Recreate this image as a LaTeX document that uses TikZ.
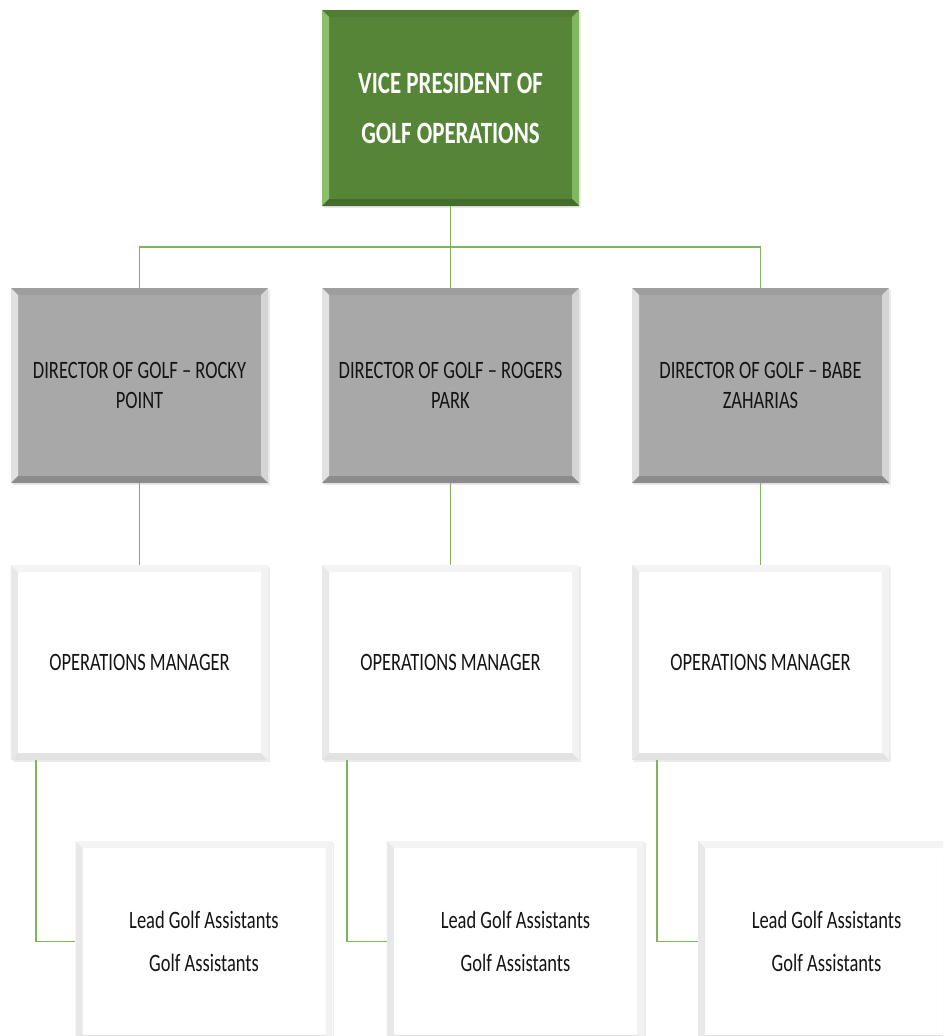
\documentclass[tikz,border=0pt]{standalone}
\usepackage{fontspec}
\newfontfamily\myfont[FakeStretch=0.74]{Carlito}
\usetikzlibrary{shadows}
\definecolor{vpgreen}{RGB}{86,133,55}
\definecolor{vptop}{RGB}{80,125,51}
\definecolor{vpleft}{RGB}{140,190,105}
\definecolor{vpright}{RGB}{130,182,96}
\definecolor{vpbot}{RGB}{68,108,44}
\definecolor{dgray}{RGB}{168,168,168}
\definecolor{dtop}{RGB}{158,158,158}
\definecolor{dleft}{RGB}{225,225,225}
\definecolor{dright}{RGB}{212,212,212}
\definecolor{dbot}{RGB}{140,140,140}
\definecolor{wtop}{RGB}{244,244,244}
\definecolor{wleft}{RGB}{232,232,232}
\definecolor{wright}{RGB}{242,242,242}
\definecolor{wbot}{RGB}{226,226,226}
\definecolor{linkgreen}{RGB}{128,180,92}
\definecolor{txt}{RGB}{20,20,20}
\tikzset{
  bevbox/.style n args={5}{fill=#1, minimum width=257pt, minimum height=195pt,
    inner sep=0pt, align=center, font=\myfont\fontsize{25}{30}\selectfont, text=txt,
    drop shadow={opacity=0.15, shadow xshift=1.5pt, shadow yshift=-1.5pt},
    path picture={
      \fill[#2] (path picture bounding box.north west) -- (path picture bounding box.north east)
        -- ([xshift=-7pt,yshift=-7pt]path picture bounding box.north east)
        -- ([xshift=7pt,yshift=-7pt]path picture bounding box.north west) -- cycle;
      \fill[#3] (path picture bounding box.north west) -- (path picture bounding box.south west)
        -- ([xshift=7pt,yshift=7pt]path picture bounding box.south west)
        -- ([xshift=7pt,yshift=-7pt]path picture bounding box.north west) -- cycle;
      \fill[#4] (path picture bounding box.north east) -- (path picture bounding box.south east)
        -- ([xshift=-7pt,yshift=7pt]path picture bounding box.south east)
        -- ([xshift=-7pt,yshift=-7pt]path picture bounding box.north east) -- cycle;
      \fill[#5] (path picture bounding box.south west) -- (path picture bounding box.south east)
        -- ([xshift=-7pt,yshift=7pt]path picture bounding box.south east)
        -- ([xshift=7pt,yshift=7pt]path picture bounding box.south west) -- cycle;
    }},
  vpbox/.style={bevbox={vpgreen}{vptop}{vpleft}{vpright}{vpbot}, minimum height=196pt,
    text=white, font=\myfont\bfseries\fontsize{31}{50}\selectfont},
  dirbox/.style={bevbox={dgray}{dtop}{dleft}{dright}{dbot}},
  opsbox/.style={bevbox={white}{wtop}{wleft}{wright}{wbot}},
  asbox/.style={bevbox={white}{wtop}{wleft}{wright}{wbot}, font=\myfont\fontsize{25}{43}\selectfont},
  link/.style={draw=linkgreen, line width=1.4pt},
}
\begin{document}
\begin{tikzpicture}[x=1pt,y=-1pt]
\useasboundingbox (0,0) rectangle (943,1036);
\fill[white] (0,0) rectangle (943,1036);
\clip (0,0) rectangle (943,1036);

\node[vpbox] (vp) at (450.5,108) {VICE PRESIDENT OF\\GOLF OPERATIONS};

\node[dirbox] (d1) at (139.5,385.5) {DIRECTOR OF GOLF – ROCKY\\POINT};
\node[dirbox] (d2) at (450.5,385.5) {DIRECTOR OF GOLF – ROGERS\\PARK};
\node[dirbox] (d3) at (760.5,385.5) {DIRECTOR OF GOLF – BABE\\ZAHARIAS};

\node[opsbox] (o1) at (139.5,662.5) {OPERATIONS MANAGER};
\node[opsbox] (o2) at (450.5,662.5) {OPERATIONS MANAGER};
\node[opsbox] (o3) at (760.5,662.5) {OPERATIONS MANAGER};

\node[asbox, minimum height=201pt] (a1) at (204,941.5) {Lead Golf Assistants\\Golf Assistants};
\node[asbox, minimum height=201pt] (a2) at (515.5,941.5) {Lead Golf Assistants\\Golf Assistants};
\node[asbox, minimum height=201pt] (a3) at (826.5,941.5) {Lead Golf Assistants\\Golf Assistants};

\coordinate (bar) at (450.5,247);
\draw[link] (vp.south) -- (bar);
\draw[link] (d1.north) |- (bar) -| (d3.north);
\draw[link] (bar) -- (d2.north);

\draw[link] (d1.south) -- (o1.north);
\draw[link] (d2.south) -- (o2.north);
\draw[link] (d3.south) -- (o3.north);

\draw[link] ([xshift=25pt]o1.south west) |- (a1.west);
\draw[link] ([xshift=25pt]o2.south west) |- (a2.west);
\draw[link] ([xshift=25pt]o3.south west) |- (a3.west);
\end{tikzpicture}
\end{document}
